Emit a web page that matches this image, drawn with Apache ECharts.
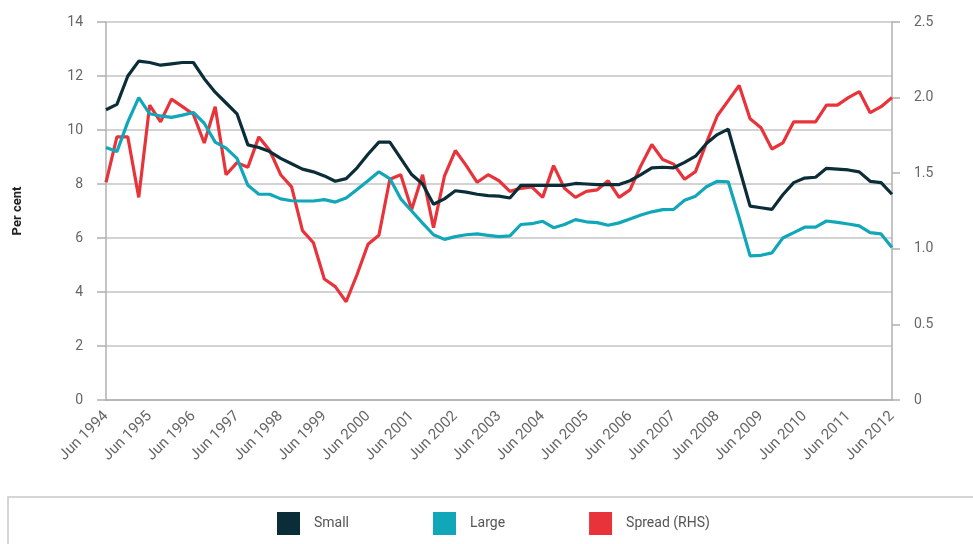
<!DOCTYPE html>
<html>
<head>
<meta charset="utf-8">
<script src="https://cdn.jsdelivr.net/npm/echarts@6/dist/echarts.min.js"></script>
<style>
  html, body { margin: 0; padding: 0; background: #fff; }
  #chart { width: 973px; height: 544px; }
</style>
</head>
<body>
<div id="chart"></div>
<script>
// quarters Jun 1994 .. Jun 2012
const years = [1994, 1995, 1996, 1997, 1998, 1999, 2000, 2001, 2002, 2003, 2004, 2005, 2006, 2007, 2008, 2009, 2010, 2011, 2012]
const months = ['Jun', 'Sep', 'Dec', 'Mar']

const small = [10.75, 10.95, 12.0, 12.55, 12.5, 12.4, 12.45, 12.5, 12.5, 11.9, 11.4, 11.0, 10.6, 9.45, 9.35, 9.2, 8.95, 8.75, 8.55,
  8.45, 8.3, 8.1, 8.2, 8.6, 9.1, 9.55, 9.55, 8.95, 8.35, 8.0, 7.25, 7.45, 7.75, 7.7, 7.62, 7.57,
  7.55, 7.48, 7.95, 7.95, 7.95, 7.95, 7.95, 8.02, 8.0, 7.98, 7.98, 7.98, 8.12, 8.35, 8.6, 8.62, 8.6, 8.8,
  9.03, 9.5, 9.83, 10.03, 8.6, 7.18, 7.12, 7.06, 7.6, 8.05, 8.22, 8.25, 8.58, 8.55, 8.52, 8.45, 8.1, 8.05, 7.62]

const large = [9.35, 9.2, 10.3, 11.2, 10.6, 10.52, 10.47, 10.55, 10.65, 10.25, 9.55, 9.33, 8.95, 7.95, 7.62, 7.62, 7.45, 7.38, 7.37,
  7.37, 7.42, 7.33, 7.48, 7.8, 8.12, 8.45, 8.2, 7.45, 7.0, 6.55, 6.12, 5.95, 6.05, 6.12, 6.15, 6.1,
  6.05, 6.08, 6.5, 6.53, 6.62, 6.38, 6.5, 6.68, 6.6, 6.57, 6.47, 6.56, 6.7, 6.85, 6.97, 7.05, 7.06, 7.4,
  7.55, 7.9, 8.1, 8.08, 6.75, 5.34, 5.36, 5.45, 6.0, 6.2, 6.4, 6.4, 6.63, 6.58, 6.52, 6.45, 6.2, 6.15, 5.65]

const spread = [1.44, 1.74, 1.74, 1.34, 1.95, 1.84, 1.99, 1.94, 1.89, 1.70, 1.94, 1.49, 1.57, 1.54, 1.74, 1.65, 1.49, 1.41, 1.12,
  1.04, 0.80, 0.75, 0.65, 0.83, 1.03, 1.09, 1.46, 1.49, 1.26, 1.49, 1.14, 1.48, 1.65, 1.55, 1.44, 1.49,
  1.45, 1.38, 1.40, 1.41, 1.34, 1.55, 1.40, 1.34, 1.38, 1.39, 1.45, 1.34, 1.39, 1.55, 1.69, 1.59, 1.56, 1.46,
  1.51, 1.70, 1.88, 1.98, 2.08, 1.86, 1.80, 1.66, 1.70, 1.84, 1.84, 1.84, 1.95, 1.95, 2.0, 2.04, 1.90, 1.94, 2.0]

// build quarter labels
let quarters = []
for (let i = 0; i < small.length; i++) {
  let m = months[i % 4]
  let y = years[0] + Math.floor((i + 1) / 4)
  quarters.push(m + ' ' + y)
}

const gridColor = '#c4c4c4'
const labelColor = '#666'
const font = 'Roboto, "DejaVu Sans", sans-serif'

let chart = echarts.init(document.getElementById('chart'))

let option = {
  animation: false,
  textStyle: { fontFamily: font },
  grid: { left: 106, right: 81, top: 22, bottom: 144, containLabel: false },
  legend: {
    left: 272,
    top: 507,
    icon: 'rect',
    itemWidth: 23,
    itemHeight: 23,
    itemGap: 84,
    textStyle: { color: '#555', fontSize: 14, fontFamily: font, padding: [0, 0, 0, 9] },
    data: ['Small', 'Large', 'Spread (RHS)']
  },
  graphic: [{
    type: 'rect',
    shape: { x: 8, y: 497, width: 980, height: 60 },
    style: { fill: 'none', stroke: '#c8c8c8', lineWidth: 1.5 },
    z: -1
  }],
  xAxis: {
    type: 'category',
    data: quarters,
    boundaryGap: false,
    axisLine: { lineStyle: { color: '#b0b0b0', width: 1.5 } },
    axisTick: { show: false },
    axisLabel: { interval: 3, rotate: 45, color: labelColor, fontSize: 15, margin: 14 },
    splitLine: { show: false }
  },
  yAxis: [{
    type: 'value',
    min: 0, max: 14, interval: 2,
    name: 'Per cent',
    nameLocation: 'middle',
    nameGap: 82,
    nameTextStyle: { color: '#222', fontWeight: 'bold', fontSize: 13 },
    axisLine: { show: true, lineStyle: { color: '#b0b0b0', width: 1.5 } },
    axisTick: { show: true, length: 9, lineStyle: { color: '#b0b0b0', width: 1.5 } },
    axisLabel: { color: labelColor, fontSize: 14, margin: 23 },
    splitLine: { lineStyle: { color: gridColor, width: 1.5 } }
  }, {
    type: 'value',
    min: 0, max: 2.5, interval: 0.5,
    position: 'right',
    axisLine: { show: true, lineStyle: { color: '#b0b0b0', width: 1.5 } },
    axisTick: { show: true, length: 8, lineStyle: { color: '#b0b0b0', width: 1.5 } },
    axisLabel: {
      color: labelColor, fontSize: 14, margin: 22,
      formatter: v => v === 0 ? '0' : v.toFixed(1)
    },
    splitLine: { show: false }
  }],
  series: [{
    name: 'Small',
    type: 'line',
    data: small,
    symbol: 'none',
    itemStyle: { color: '#0b2d38' },
    lineStyle: { color: '#0b2d38', width: 3.2 },
    z: 3
  }, {
    name: 'Large',
    type: 'line',
    data: large,
    symbol: 'none',
    itemStyle: { color: '#12a6b9' },
    lineStyle: { color: '#12a6b9', width: 3.2 },
    z: 2
  }, {
    name: 'Spread (RHS)',
    type: 'line',
    yAxisIndex: 1,
    data: spread,
    symbol: 'none',
    itemStyle: { color: '#e8333a' },
    lineStyle: { color: '#e8333a', width: 3.2 },
    z: 1
  }]
}

chart.setOption(option)
</script>
</body>
</html>
